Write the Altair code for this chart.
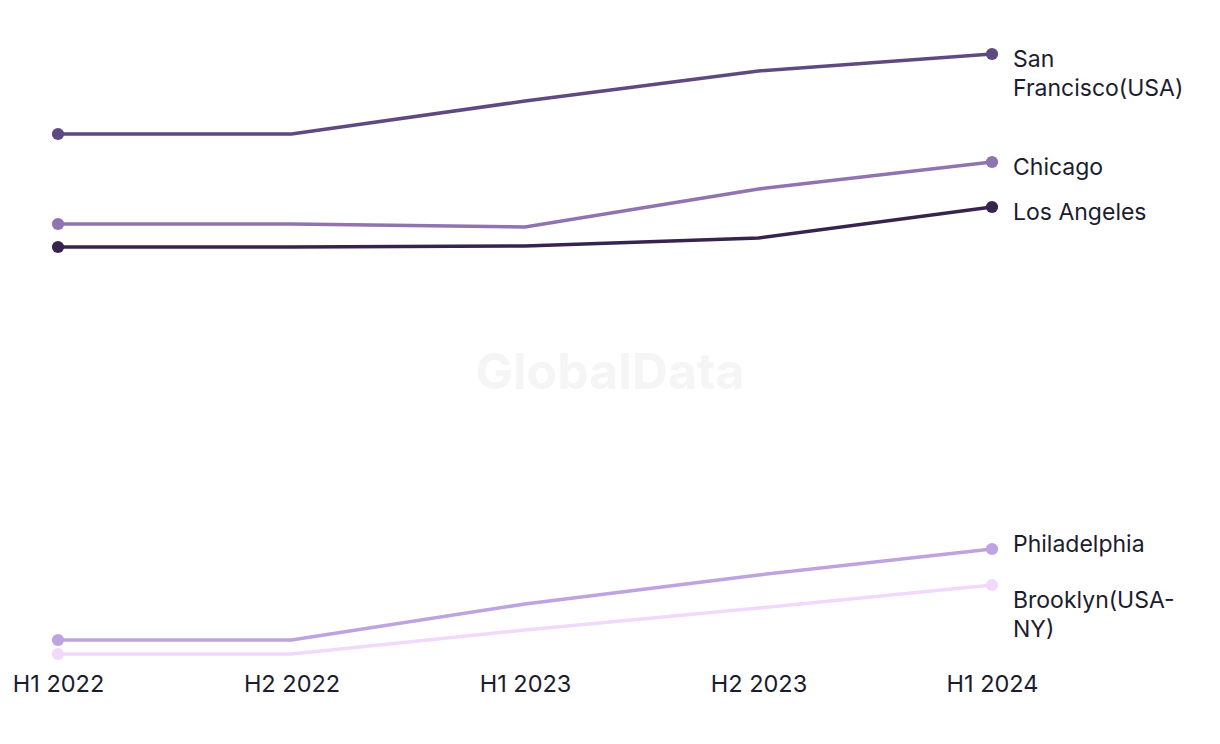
import altair as alt
import pandas as pd

periods = ["H1 2022", "H2 2022", "H1 2023", "H2 2023", "H1 2024"]
cities = ["San Francisco(USA)", "Chicago", "Los Angeles", "Philadelphia", "Brooklyn(USA-NY)"]
labels = ["San\nFrancisco(USA)", "Chicago", "Los Angeles", "Philadelphia", "Brooklyn(USA-\nNY)"]
colors = ["#5e4a80", "#8f74b0", "#36244f", "#bda3e0", "#f1d9fb"]

san_francisco = [526, 526, 559, 589, 606]
chicago = [436, 436, 433, 471, 498]
los_angeles = [413, 413, 414, 422, 453]
philadelphia = [20, 20, 56, 85, 111]
brooklyn = [6, 6, 30, 52, 75]

series = [san_francisco, chicago, los_angeles, philadelphia, brooklyn]
rows = []
for city, lab, vals in zip(cities, labels, series):
    for i, (p, v) in enumerate(zip(periods, vals)):
        rows.append({"city": city, "label": lab, "period": p, "value": v, "idx": i})
df = pd.DataFrame(rows)

FONT = "Inter"
TEXT = "#1c1c2e"

x = alt.X("period:N", sort=periods, scale=alt.Scale(type="point", padding=0),
          axis=alt.Axis(title=None, labelAngle=0, ticks=False, domain=False, grid=False,
                        labelFont=FONT, labelFontSize=23.5, labelColor=TEXT, labelPadding=12))
y = alt.Y("value:Q", scale=alt.Scale(domain=[0, 620]), axis=None)
color = alt.Color("city:N", scale=alt.Scale(domain=cities, range=colors), legend=None)

base = alt.Chart(df)

watermark = alt.Chart(pd.DataFrame({"t": ["GlobalData"]})).mark_text(
    font=FONT, fontSize=50, fontWeight="bold", color="#f5f5f5"
).encode(text="t:N", x=alt.value(552), y=alt.value(334))

lines = base.mark_line(strokeWidth=3.5).encode(x=x, y=y, color=color, detail="city:N")
points = base.transform_filter("datum.idx == 0 || datum.idx == 4").mark_circle(size=150, opacity=1).encode(
    x=x, y=y, color=color)

end = base.transform_filter("datum.idx == 4")

def label_layer(names, dy):
    return end.transform_filter(alt.FieldOneOfPredicate(field="city", oneOf=names)).mark_text(
        align="left", baseline="top", dx=21, dy=dy, font=FONT, fontSize=23, color=TEXT,
        lineBreak="\n", lineHeight=29
    ).encode(x=x, y=y, text="label:N")

labels_main = label_layer(["San Francisco(USA)", "Chicago", "Los Angeles"], -5)
labels_ph = label_layer(["Philadelphia"], -15)
labels_br = label_layer(["Brooklyn(USA-NY)"], 5)

chart = alt.layer(watermark, lines, points, labels_main, labels_ph, labels_br).properties(
    width=934, height=620,
    autosize=alt.AutoSizeParams(type="none"),
    padding={"left": 50, "top": 32, "right": 220, "bottom": 60},
).configure_view(stroke=None)

chart.save("out.html", embed_options={"renderer": "svg", "actions": False})
